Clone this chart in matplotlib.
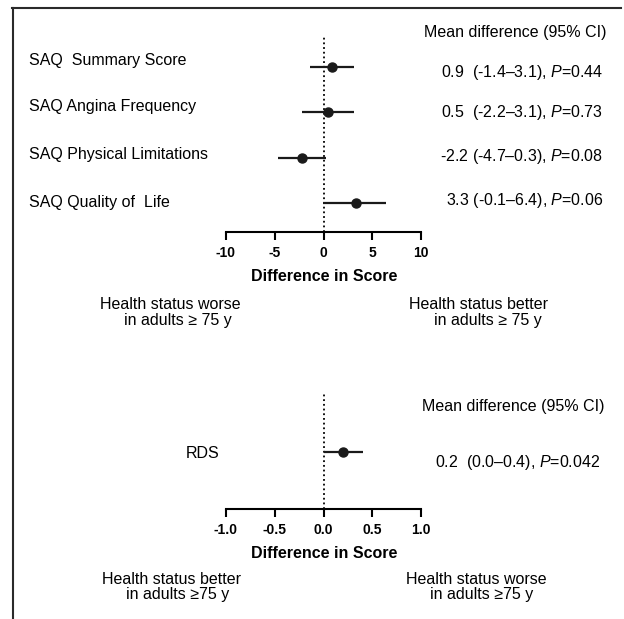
import matplotlib
matplotlib.use("Agg")
import matplotlib.pyplot as plt
from matplotlib.lines import Line2D

plt.rcParams['font.family'] = ['Liberation Sans', 'DejaVu Sans']
plt.rcParams['mathtext.fontset'] = 'custom'
plt.rcParams['mathtext.rm'] = 'Liberation Sans'
plt.rcParams['mathtext.it'] = 'Liberation Sans:italic'

# --- data ---
saq_labels = ["SAQ  Summary Score", "SAQ Angina Frequency",
              "SAQ Physical Limitations", "SAQ Quality of  Life"]
saq_mean = [0.9, 0.5, -2.2, 3.3]
saq_lo = [-1.4, -2.2, -4.7, -0.1]
saq_hi = [3.1, 3.1, 0.3, 6.4]
saq_text = ["0.9  (-1.4\u20133.1), $P$=0.44", "0.5  (-2.2\u20133.1), $P$=0.73",
            "-2.2 (-4.7\u20130.3), $P$=0.08", "3.3 (-0.1\u20136.4), $P$=0.06"]
saq_ticks = [-10, -5, 0, 5, 10]
saq_ticklabels = ["-10", "-5", "0", "5", "10"]

rds_labels = ["RDS"]
rds_mean = [0.2]
rds_lo = [0.0]
rds_hi = [0.4]
rds_text = ["0.2  (0.0\u20130.4), $P$=0.042"]
rds_ticks = [-1.0, -0.5, 0.0, 0.5, 1.0]
rds_ticklabels = ["-1.0", "-0.5", "0.0", "0.5", "1.0"]

W, H = 624, 619
FS = 11.5


def fx(x):
    return x / W


def fy(y):
    return 1 - y / H


def forest(ax, mean, lo, hi, ypos, xlim, ylim, ticks, ticklabels):
    ax.set_xlim(*xlim)
    ax.set_ylim(*ylim)
    ax.axvline(0, color='black', lw=1.3, linestyle=(0, (1, 1.6)), zorder=1)
    for m, l, h, y in zip(mean, lo, hi, ypos):
        ax.plot([l, h], [y, y], color='#1a1a1a', lw=1.6, solid_capstyle='butt', zorder=2)
        ax.plot(m, y, 'o', color='#1a1a1a', ms=6.5, zorder=3)
    for s in ['top', 'right', 'left']:
        ax.spines[s].set_visible(False)
    ax.spines['bottom'].set_linewidth(1.5)
    ax.set_yticks([])
    ax.set_xticks(ticks)
    ax.set_xticklabels(ticklabels, fontsize=10, fontweight='bold')
    ax.tick_params(axis='x', direction='out', length=6, width=1.5, pad=4)
    ax.patch.set_alpha(0)


fig = plt.figure(figsize=(6.24, 6.19), dpi=100)

# frame lines (top and left)
fig.add_artist(Line2D([fx(12), fx(621)], [fy(8), fy(8)], color='#2a2a2a', lw=1.5))
fig.add_artist(Line2D([fx(13), fx(13)], [fy(8), fy(619)], color='#2a2a2a', lw=1.5))

# --- SAQ panel ---
ax1 = fig.add_axes([fx(226), fy(232), 195 / W, (232 - 37) / H])
saq_y = [4, 3, 2, 1]
forest(ax1, saq_mean, saq_lo, saq_hi, saq_y, (-10, 10), (0.36, 4.66),
       saq_ticks, saq_ticklabels)

label_y = [60, 107, 155, 202]
value_y = [72, 112, 157, 200]
for lab, txt, ly, vy in zip(saq_labels, saq_text, label_y, value_y):
    fig.text(fx(29), fy(ly), lab, fontsize=FS, ha='left', va='center')
    fig.text(fx(603), fy(vy), txt, fontsize=FS, ha='right', va='center')
fig.text(fx(607), fy(32), "Mean difference (95% CI)", fontsize=FS, ha='right', va='center')
fig.text(fx(324), fy(277), "Difference in Score", fontsize=FS, fontweight='bold',
         ha='center', va='center')
fig.text(fx(100), fy(305), "Health status worse", fontsize=FS, ha='left', va='center')
fig.text(fx(124), fy(320), "in adults \u2265 75 y", fontsize=FS, ha='left', va='center')
fig.text(fx(409), fy(305), "Health status better", fontsize=FS, ha='left', va='center')
fig.text(fx(434), fy(320), "in adults \u2265 75 y", fontsize=FS, ha='left', va='center')

# --- RDS panel ---
ax2 = fig.add_axes([fx(226), fy(509), 195 / W, (509 - 394) / H])
forest(ax2, rds_mean, rds_lo, rds_hi, [0], (-1, 1), (-1.0, 1.02),
       rds_ticks, rds_ticklabels)

fig.text(fx(203), fy(453), rds_labels[0], fontsize=FS, ha='center', va='center')
fig.text(fx(600), fy(462), rds_text[0], fontsize=FS, ha='right', va='center')
fig.text(fx(605), fy(406), "Mean difference (95% CI)", fontsize=FS, ha='right', va='center')
fig.text(fx(324), fy(553), "Difference in Score", fontsize=FS, fontweight='bold',
         ha='center', va='center')
fig.text(fx(102), fy(579), "Health status better", fontsize=FS, ha='left', va='center')
fig.text(fx(126), fy(594), "in adults \u226575 y", fontsize=FS, ha='left', va='center')
fig.text(fx(406), fy(579), "Health status worse", fontsize=FS, ha='left', va='center')
fig.text(fx(430), fy(594), "in adults \u226575 y", fontsize=FS, ha='left', va='center')

fig.savefig("out.png", dpi=100)
